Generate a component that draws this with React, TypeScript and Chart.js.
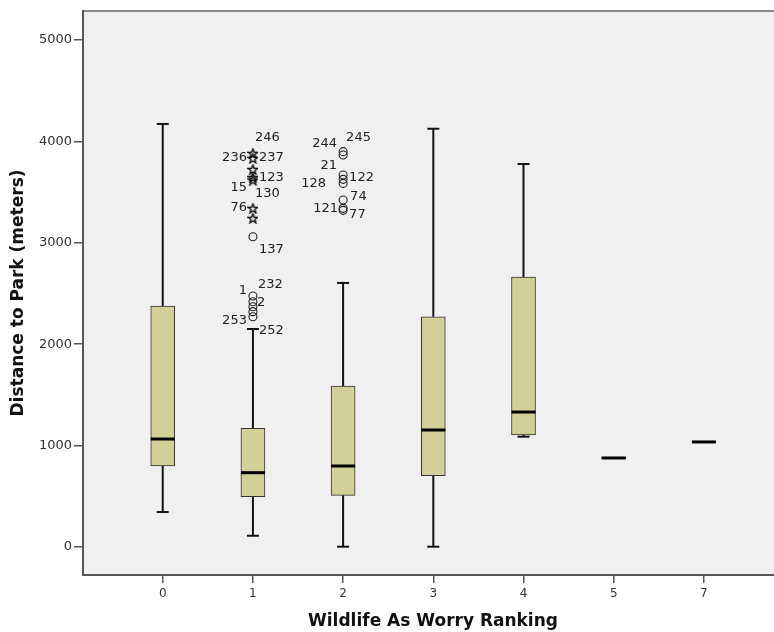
import React, { useEffect, useRef } from "react";
import { Chart, registerables } from "chart.js";

Chart.register(...registerables);

// ---- data ----
const categories = ["0", "1", "2", "3", "4", "5", "7"];
const whiskerLow = [345, 111, 3, 3, 1088, 872, 1036];
const q1 = [799, 496, 510, 703, 1105, 872, 1036];
const median = [1065, 733, 799, 1154, 1331, 878, 1036];
const q3 = [2377, 1170, 1588, 2271, 2663, 884, 1036];
const whiskerHigh = [4172, 2150, 2604, 4125, 3777, 884, 1036];
const yTicks = [0, 1000, 2000, 3000, 4000, 5000];

// outliers (category index, value, shape, case label)
const outlierCategory = [1, 1, 1, 1, 1, 1, 1, 1, 1, 1, 1, 1, 1, 2, 2, 2, 2, 2, 2, 2, 2];
const outlierValue = [
  3882, 3833, 3724, 3645, 3619, 3340, 3241,
  3060, 2475, 2419, 2370, 2321, 2271,
  3899, 3866, 3669, 3626, 3586, 3422, 3340, 3320,
];
const outlierShape = [
  "*", "*", "*", "*", "*", "*", "*",
  "o", "o", "o", "o", "o", "o",
  "o", "o", "o", "o", "o", "o", "o", "o",
];
const outlierLabel = [
  "246", "236", "237", "123", "15", "130", "76",
  "137", "232", "1", "2", "253", "252",
  "245", "244", "21", "122", "128", "74", "121", "77",
];
// label placement nudges in px (dx>0: text to the right, dx<0: text to the left)
const labelNudge: [number, number][] = [
  [2, -16], [-6, -1], [6, -12], [6, 0], [-6, 8], [2, -15], [-6, -11],
  [6, 13], [5, -11], [-6, -11], [4, -4], [-6, 9], [6, 14],
  [3, -14], [-6, -11], [-6, -9], [6, -2], [-17, 0], [7, -3], [-5, 0], [6, 4],
];

function makeStar(): HTMLCanvasElement {
  const c = document.createElement("canvas");
  c.width = 11;
  c.height = 11;
  const g = c.getContext("2d")!;
  g.beginPath();
  const cx = 5.5, cy = 5.9, R = 5, r = 2.1;
  for (let i = 0; i < 10; i++) {
    const a = -Math.PI / 2 + (i * Math.PI) / 5;
    const rr = i % 2 === 0 ? R : r;
    const x = cx + rr * Math.cos(a);
    const y = cy + rr * Math.sin(a);
    if (i === 0) g.moveTo(x, y);
    else g.lineTo(x, y);
  }
  g.closePath();
  g.strokeStyle = "#111";
  g.lineWidth = 1.4;
  g.stroke();
  return c;
}

const boxPlugin = {
  id: "boxExtras",
  beforeDraw(chart: any) {
    const { ctx, chartArea: a } = chart;
    ctx.save();
    ctx.fillStyle = "#F0F0F0";
    ctx.fillRect(a.left, a.top, a.right - a.left, a.bottom - a.top);
    ctx.strokeStyle = "#8a8a8a";
    ctx.lineWidth = 2;
    ctx.beginPath();
    ctx.moveTo(a.left, a.top);
    ctx.lineTo(a.right, a.top);
    ctx.stroke();
    ctx.restore();
  },
  beforeDatasetsDraw(chart: any) {
    const { ctx } = chart;
    const xs = chart.scales.x;
    const ys = chart.scales.y;
    ctx.save();
    ctx.strokeStyle = "#111";
    ctx.lineWidth = 2;
    categories.forEach((_, i) => {
      const x = xs.getPixelForValue(i);
      const seg = (from: number, to: number) => {
        if (Math.abs(from - to) < 1e-6) return;
        ctx.beginPath();
        ctx.moveTo(x, ys.getPixelForValue(from));
        ctx.lineTo(x, ys.getPixelForValue(to));
        ctx.stroke();
        const yc = ys.getPixelForValue(to);
        ctx.beginPath();
        ctx.moveTo(x - 6, yc);
        ctx.lineTo(x + 6, yc);
        ctx.stroke();
      };
      seg(q3[i], whiskerHigh[i]);
      seg(q1[i], whiskerLow[i]);
    });
    ctx.restore();
  },
  afterDatasetsDraw(chart: any) {
    const { ctx } = chart;
    const xs = chart.scales.x;
    const ys = chart.scales.y;
    ctx.save();
    ctx.strokeStyle = "#000";
    ctx.lineWidth = 3;
    categories.forEach((_, i) => {
      const x = xs.getPixelForValue(i);
      const y = ys.getPixelForValue(median[i]);
      ctx.beginPath();
      ctx.moveTo(x - 12, y);
      ctx.lineTo(x + 12, y);
      ctx.stroke();
    });
    ctx.font = "13px 'DejaVu Sans'";
    ctx.fillStyle = "#222";
    ctx.textBaseline = "middle";
    outlierLabel.forEach((lab, k) => {
      const x = xs.getPixelForValue(outlierCategory[k]);
      const y = ys.getPixelForValue(outlierValue[k]);
      const [dx, dy] = labelNudge[k];
      ctx.textAlign = dx >= 0 ? "left" : "right";
      ctx.fillText(lab, x + dx, y + dy);
    });
    ctx.restore();
  },
};

export default function App() {
  const ref = useRef<HTMLCanvasElement>(null);
  useEffect(() => {
    if (!ref.current) return;
    const star = makeStar();
    const circIdx = outlierShape.map((s, k) => (s === "o" ? k : -1)).filter((k) => k >= 0);
    const starIdx = outlierShape.map((s, k) => (s === "*" ? k : -1)).filter((k) => k >= 0);
    const chart = new Chart(ref.current, {
      type: "bar",
      data: {
        datasets: [
          {
            type: "bar",
            data: categories.map((_, i) => ({ x: i, y: [q1[i], q3[i]] })) as any,
            backgroundColor: "#D3CF98",
            borderColor: "#333",
            borderWidth: 1,
            borderSkipped: false,
            barThickness: 24,
            grouped: false,
          } as any,
          {
            type: "scatter",
            data: circIdx.map((k) => ({ x: outlierCategory[k], y: outlierValue[k] })),
            pointStyle: "circle",
            pointRadius: 4,
            borderColor: "#222",
            borderWidth: 1.1,
            backgroundColor: "rgba(0,0,0,0)",
          } as any,
          {
            type: "scatter",
            data: starIdx.map((k) => ({ x: outlierCategory[k], y: outlierValue[k] })),
            pointStyle: star,
            pointRadius: 5,
          } as any,
        ],
      },
      options: {
        animation: false,
        responsive: false,
        devicePixelRatio: 1,
        layout: { padding: { left: 0, top: 11, right: 17, bottom: 0 } },
        plugins: { legend: { display: false }, tooltip: { enabled: false } },
        scales: {
          x: {
            type: "linear",
            min: -0.884,
            max: 6.877,
            offset: false,
            afterBuildTicks: (s: any) => {
              s.ticks = categories.map((_, i) => ({ value: i }));
            },
            afterFit: (s: any) => {
              s.height = 57;
            },
            ticks: {
              callback: (v: any) => categories[Math.round(Number(v))] ?? "",
              font: { family: "DejaVu Sans", size: 12 },
              color: "#333",
              padding: 4,
              maxRotation: 0,
              autoSkip: false,
            },
            grid: {
              display: true,
              offset: false,
              drawOnChartArea: false,
              drawTicks: true,
              tickLength: 8,
              color: "#555",
              lineWidth: 1.5,
            },
            border: { display: true, color: "#555", width: 2 },
            title: {
              display: true,
              text: "Wildlife As Worry Ranking",
              font: { family: "DejaVu Sans", size: 17, weight: "bold" },
              color: "#111",
              padding: { top: 2, bottom: 0 },
            },
          },
          y: {
            type: "linear",
            min: -276,
            max: 5286,
            afterBuildTicks: (s: any) => {
              s.ticks = yTicks.map((v) => ({ value: v }));
            },
            afterFit: (s: any) => {
              s.width = 83;
            },
            ticks: {
              callback: (v: any) => String(v),
              font: { family: "DejaVu Sans", size: 13 },
              color: "#333",
              padding: 2,
            },
            grid: {
              display: true,
              drawOnChartArea: false,
              drawTicks: true,
              tickLength: 9,
              color: "#555",
              lineWidth: 1.5,
            },
            border: { display: true, color: "#555", width: 2 },
            title: {
              display: true,
              text: "Distance to Park (meters)",
              font: { family: "DejaVu Sans", size: 17, weight: "bold" },
              color: "#111",
              padding: { top: 8, bottom: 0 },
            },
          },
        },
      },
      plugins: [boxPlugin],
    } as any);
    return () => chart.destroy();
  }, []);
  return (
    <div
      style={{
        position: "absolute",
        left: 0,
        top: 0,
        width: 774,
        height: 632,
        overflow: "hidden",
        background: "#fff",
      }}
    >
      <canvas ref={ref} width={800} height={632} style={{ display: "block" }} />
    </div>
  );
}
